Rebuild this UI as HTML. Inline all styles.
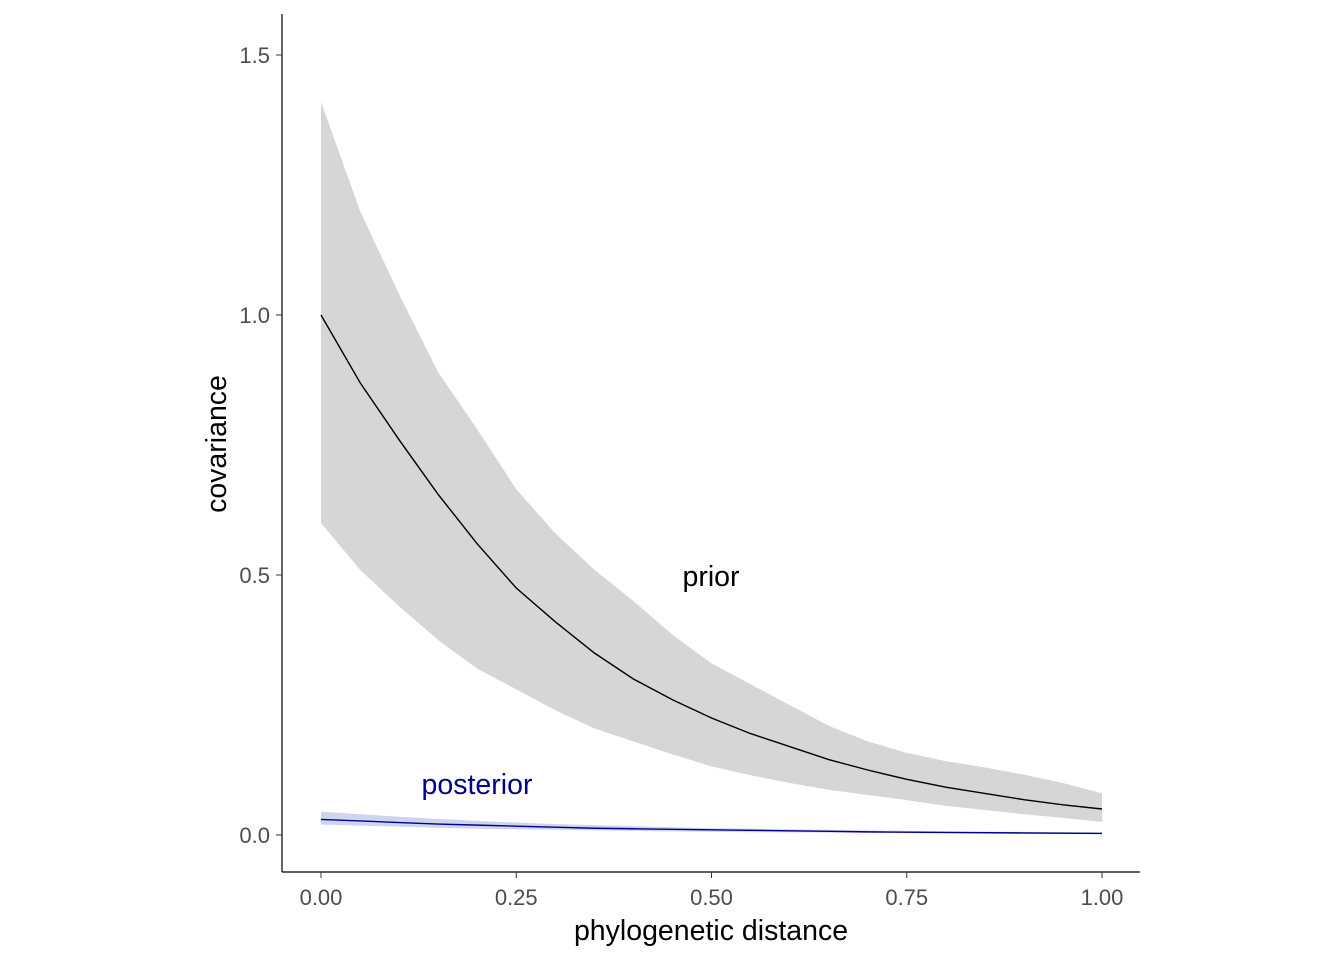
<!DOCTYPE html>
<html><head><meta charset="utf-8"><style>
body{margin:0;background:#fff;}
svg text{font-family:"Liberation Sans",Arial,sans-serif;}
</style></head><body>
<svg id="chart" width="1344" height="960">
<g id="plot"></g>
</svg>
<script>
const xs=[0,0.05,0.1,0.15,0.2,0.25,0.3,0.35,0.4,0.45,0.5,0.55,0.6,0.65,0.7,0.75,0.8,0.85,0.9,0.95,1.0];
const priorMean=[1.0,0.87,0.76,0.655,0.56,0.475,0.41,0.35,0.30,0.26,0.225,0.195,0.17,0.145,0.125,0.107,0.092,0.08,0.068,0.058,0.05];
const priorUpper=[1.41,1.2,1.04,0.89,0.78,0.665,0.58,0.51,0.45,0.385,0.33,0.29,0.25,0.21,0.18,0.158,0.142,0.13,0.116,0.10,0.08];
const priorLower=[0.6,0.51,0.44,0.375,0.32,0.28,0.24,0.205,0.18,0.155,0.132,0.115,0.1,0.087,0.077,0.067,0.056,0.048,0.04,0.033,0.025];
const postMean=[0.03,0.027,0.024,0.021,0.019,0.017,0.015,0.013,0.012,0.011,0.01,0.009,0.008,0.007,0.006,0.0055,0.005,0.0045,0.004,0.0035,0.003];
const postUpper=[0.045,0.04,0.035,0.031,0.027,0.024,0.021,0.019,0.017,0.015,0.013,0.012,0.011,0.01,0.009,0.008,0.007,0.0065,0.006,0.0055,0.005];
const postLower=[0.02,0.018,0.016,0.014,0.012,0.011,0.01,0.009,0.008,0.007,0.006,0.0055,0.005,0.0045,0.004,0.0035,0.003,0.0025,0.002,0.002,0.002];
const xTicks=[0,0.25,0.5,0.75,1.0];
const xTickLabels=["0.00","0.25","0.50","0.75","1.00"];
const yTicks=[0,0.5,1.0,1.5];
const yTickLabels=["0.0","0.5","1.0","1.5"];

const X=v=>321+v*781, Y=v=>835-v*520;
const ns="http://www.w3.org/2000/svg";
const g=document.getElementById('plot');
function mk(t,a){const e=document.createElementNS(ns,t);for(const k in a)e.setAttribute(k,a[k]);g.appendChild(e);return e;}
function band(u,l,fill,name){
  let d='M'+xs.map((x,i)=>X(x)+','+Y(u[i])).join('L');
  d+='L'+xs.map((x,i)=>X(x)+','+Y(l[i])).reverse().join('L')+'Z';
  const e=mk('path',{d:d,fill:fill});
  
  
}
function line(m,stroke,name){
  const e=mk('polyline',{points:xs.map((x,i)=>X(x)+','+Y(m[i])).join(' '),fill:'none',stroke:stroke,'stroke-width':1.4});
  
  
}
band(priorUpper,priorLower,'#d6d6d6','prior-band');
band(postUpper,postLower,'#cfd4ee','posterior-band');
line(priorMean,'#000','prior-line');
line(postMean,'#00008b','posterior-line');
let e=mk('line',{x1:282,y1:14,x2:282,y2:872,stroke:'#000','stroke-width':1.2});

e=mk('line',{x1:282,y1:872,x2:1140,y2:872,stroke:'#000','stroke-width':1.2});

xTicks.forEach((v,i)=>{
  let t=mk('line',{x1:X(v),x2:X(v),y1:872,y2:878,stroke:'#333'});
  
  let l=mk('text',{x:X(v),y:905,'text-anchor':'middle','font-size':22,fill:'#4d4d4d'});
  l.textContent=xTickLabels[i];
  
});
yTicks.forEach((v,i)=>{
  let t=mk('line',{x1:276,x2:282,y1:Y(v),y2:Y(v),stroke:'#333'});
  
  let l=mk('text',{x:270,y:Y(v)+8,'text-anchor':'end','font-size':22,fill:'#4d4d4d'});
  l.textContent=yTickLabels[i];
  
});
e=mk('text',{x:711,y:940,'text-anchor':'middle','font-size':28.5,fill:'#000'});e.textContent='phylogenetic distance';

e=mk('text',{x:226,y:444,'text-anchor':'middle','font-size':28.5,fill:'#000',transform:'rotate(-90 226 444)'});e.textContent='covariance';

e=mk('text',{x:711,y:586,'text-anchor':'middle','font-size':28.5,fill:'#000'});e.textContent='prior';

e=mk('text',{x:477,y:794,'text-anchor':'middle','font-size':28.5,fill:'#00008b'});e.textContent='posterior';

</script>
</body></html>
